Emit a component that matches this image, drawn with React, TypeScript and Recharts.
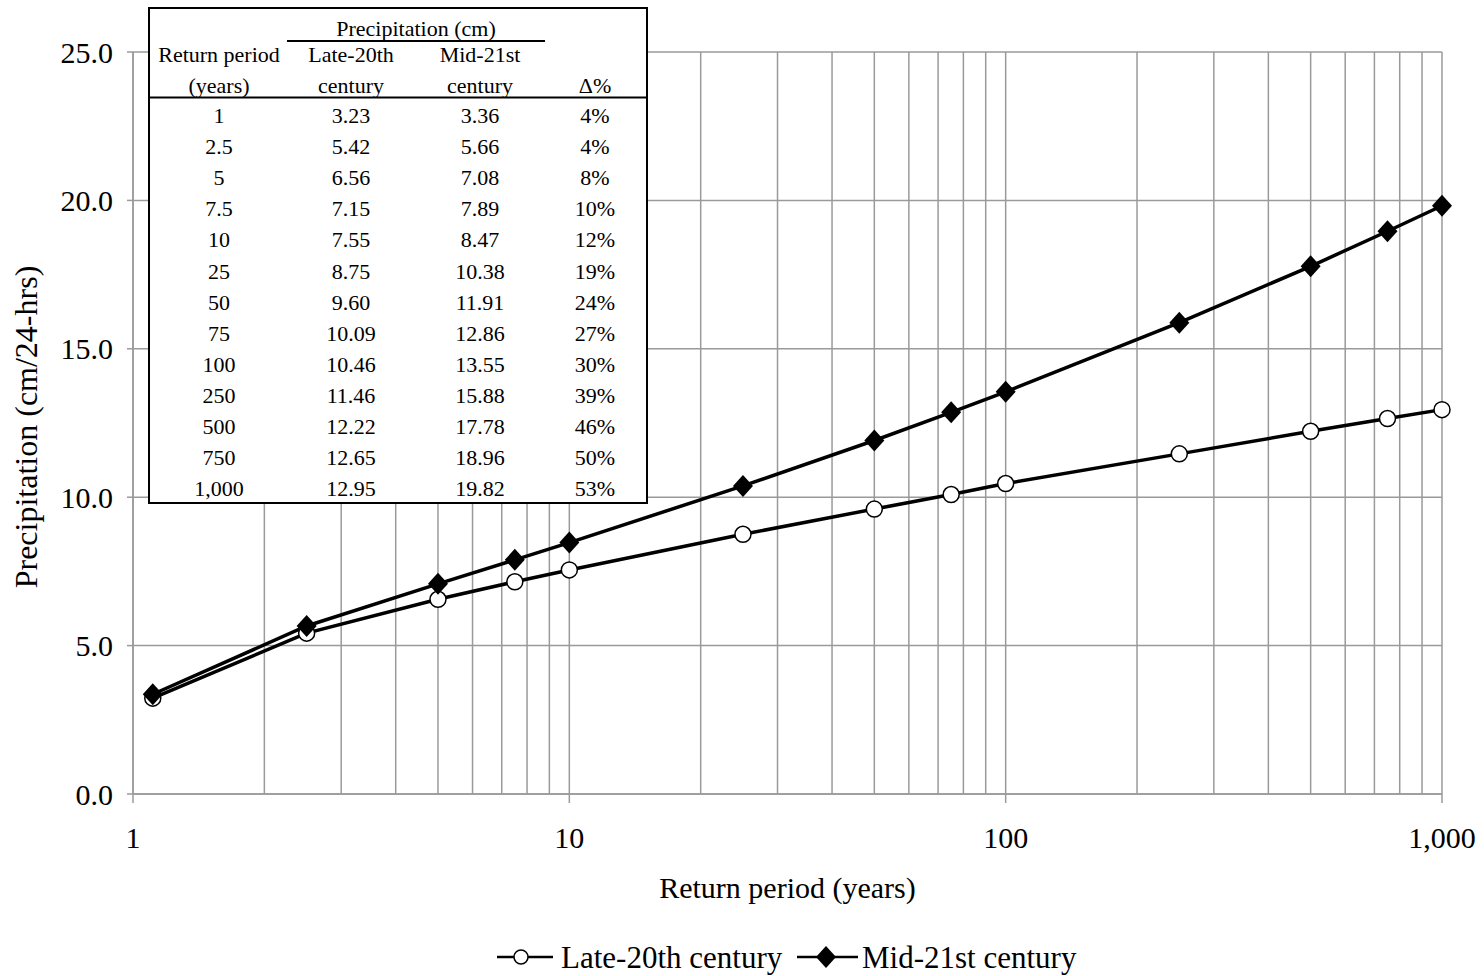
import React from 'react';
import { CartesianGrid, Label, Line, LineChart, XAxis, YAxis } from 'recharts';

// table rows (as printed) and plotted positions on the log axis
const returnPeriodLabels = ['1', '2.5', '5', '7.5', '10', '25', '50', '75', '100', '250', '500', '750', '1,000'];
const plottedPeriods = [1.11, 2.5, 5, 7.5, 10, 25, 50, 75, 100, 250, 500, 750, 1000];
const late20th = [3.23, 5.42, 6.56, 7.15, 7.55, 8.75, 9.6, 10.09, 10.46, 11.46, 12.22, 12.65, 12.95];
const mid21st = [3.36, 5.66, 7.08, 7.89, 8.47, 10.38, 11.91, 12.86, 13.55, 15.88, 17.78, 18.96, 19.82];
const changePct = ['4%', '4%', '8%', '10%', '12%', '19%', '24%', '27%', '30%', '39%', '46%', '50%', '53%'];

const gridTicks = [1, 2, 3, 4, 5, 6, 7, 8, 9, 10, 20, 30, 40, 50, 60, 70, 80, 90, 100, 200, 300, 400, 500, 600, 700, 800, 900, 1000];
const majorTicks = [1, 10, 100, 1000];
const majorLabels = ['1', '10', '100', '1,000'];
const yTicks = [0, 5, 10, 15, 20, 25];

const data = plottedPeriods.map((p, i) => ({ period: p, late: late20th[i], mid: mid21st[i] }));

const FONT = '"Liberation Serif", "Times New Roman", serif';
const GRID = '#9a9a9a';

function XTick(props: any) {
  const { x, y, payload } = props;
  const idx = majorTicks.indexOf(payload.value);
  if (idx < 0) return <g />;
  return (
    <g>
      <line x1={x} x2={x} y1={y} y2={y + 9} stroke={GRID} strokeWidth={1.5} />
      <text x={x} y={y + 54} textAnchor="middle" fontSize={30} fontFamily={FONT} fill="#000">
        {majorLabels[idx]}
      </text>
    </g>
  );
}

function Diamond(props: any) {
  const { cx, cy, index } = props;
  return <path key={`d${index}`} d={`M${cx},${cy - 11}L${cx + 10},${cy}L${cx},${cy + 11}L${cx - 10},${cy}Z`} fill="#000" />;
}

const colX = [219, 351, 480, 595];

function TableOverlay() {
  return (
    <svg width={1484} height={976} style={{ position: 'absolute', left: 0, top: 0, pointerEvents: 'none' }}>
      <rect x={149} y={8} width={498} height={495} fill="#fff" stroke="#000" strokeWidth={2} />
      <g fontFamily={FONT} fontSize={22} fill="#000" textAnchor="middle">
        <text x={416} y={36}>Precipitation (cm)</text>
        <line x1={287} x2={545} y1={41} y2={41} stroke="#000" strokeWidth={2} />
        <text x={colX[0]} y={62}>Return period</text>
        <text x={colX[1]} y={62}>Late-20th</text>
        <text x={colX[2]} y={62}>Mid-21st</text>
        <text x={colX[0]} y={93}>(years)</text>
        <text x={colX[1]} y={93}>century</text>
        <text x={colX[2]} y={93}>century</text>
        <text x={colX[3]} y={93}>Δ%</text>
        <line x1={149} x2={647} y1={97.5} y2={97.5} stroke="#000" strokeWidth={2} />
        {returnPeriodLabels.map((rp, i) => {
          const by = 123 + i * 31.1;
          return (
            <g key={rp}>
              <text x={colX[0]} y={by}>{rp}</text>
              <text x={colX[1]} y={by}>{late20th[i].toFixed(2)}</text>
              <text x={colX[2]} y={by}>{mid21st[i].toFixed(2)}</text>
              <text x={colX[3]} y={by}>{changePct[i]}</text>
            </g>
          );
        })}
      </g>
      {/* legend */}
      <g fontFamily={FONT} fontSize={31} fill="#000">
        <line x1={497} x2={553} y1={957} y2={957} stroke="#000" strokeWidth={2.5} />
        <circle cx={521} cy={957} r={7} fill="#fff" stroke="#000" strokeWidth={1.5} />
        <text x={561} y={968}>Late-20th century</text>
        <line x1={797} x2={858} y1={957} y2={957} stroke="#000" strokeWidth={2.5} />
        <path d="M826,946L836,957L826,968L816,957Z" fill="#000" />
        <text x={862} y={968}>Mid-21st century</text>
      </g>
    </svg>
  );
}

export default function App() {
  return (
    <div style={{ position: 'absolute', left: 0, top: 0, width: 1484, height: 976, background: '#fff', fontFamily: FONT }}>
      <LineChart width={1484} height={976} data={data} margin={{ top: 52, right: 42, bottom: 0, left: 0 }}>
        <CartesianGrid stroke={GRID} strokeWidth={1.5} />
        <XAxis
          dataKey="period"
          type="number"
          scale="log"
          domain={[1, 1000]}
          ticks={gridTicks}
          interval={0}
          height={182}
          tickSize={0}
          tickMargin={0}
          tickLine={false}
          tick={<XTick />}
          axisLine={{ stroke: GRID, strokeWidth: 1.5 }}
        >
          <Label
            content={({ viewBox }: any) => (
              <text x={viewBox.x + viewBox.width / 2} y={viewBox.y + 104} textAnchor="middle" fontSize={30} fontFamily={FONT} fill="#000">
                Return period (years)
              </text>
            )}
          />
        </XAxis>
        <YAxis
          type="number"
          domain={[0, 25]}
          ticks={yTicks}
          width={133}
          tickSize={6}
          tickMargin={14}
          tickFormatter={(v: number) => v.toFixed(1)}
          tick={{ fontSize: 30, fontFamily: FONT, fill: '#000' }}
          tickLine={{ stroke: GRID, strokeWidth: 1.5 }}
          axisLine={{ stroke: GRID, strokeWidth: 1.5 }}
        >
          <Label
            content={({ viewBox }: any) => {
              const cy = viewBox.y + viewBox.height / 2 + 4;
              return (
                <text x={37} y={cy} transform={`rotate(-90, 37, ${cy})`} textAnchor="middle" fontSize={32} fontFamily={FONT} fill="#000">
                  Precipitation (cm/24-hrs)
                </text>
              );
            }}
          />
        </YAxis>
        <Line
          dataKey="late"
          stroke="#000"
          strokeWidth={3.5}
          isAnimationActive={false}
          dot={{ r: 8, fill: '#fff', stroke: '#000', strokeWidth: 1.5 }}
        />
        <Line dataKey="mid" stroke="#000" strokeWidth={3.5} isAnimationActive={false} dot={<Diamond />} />
      </LineChart>
      <TableOverlay />
    </div>
  );
}
